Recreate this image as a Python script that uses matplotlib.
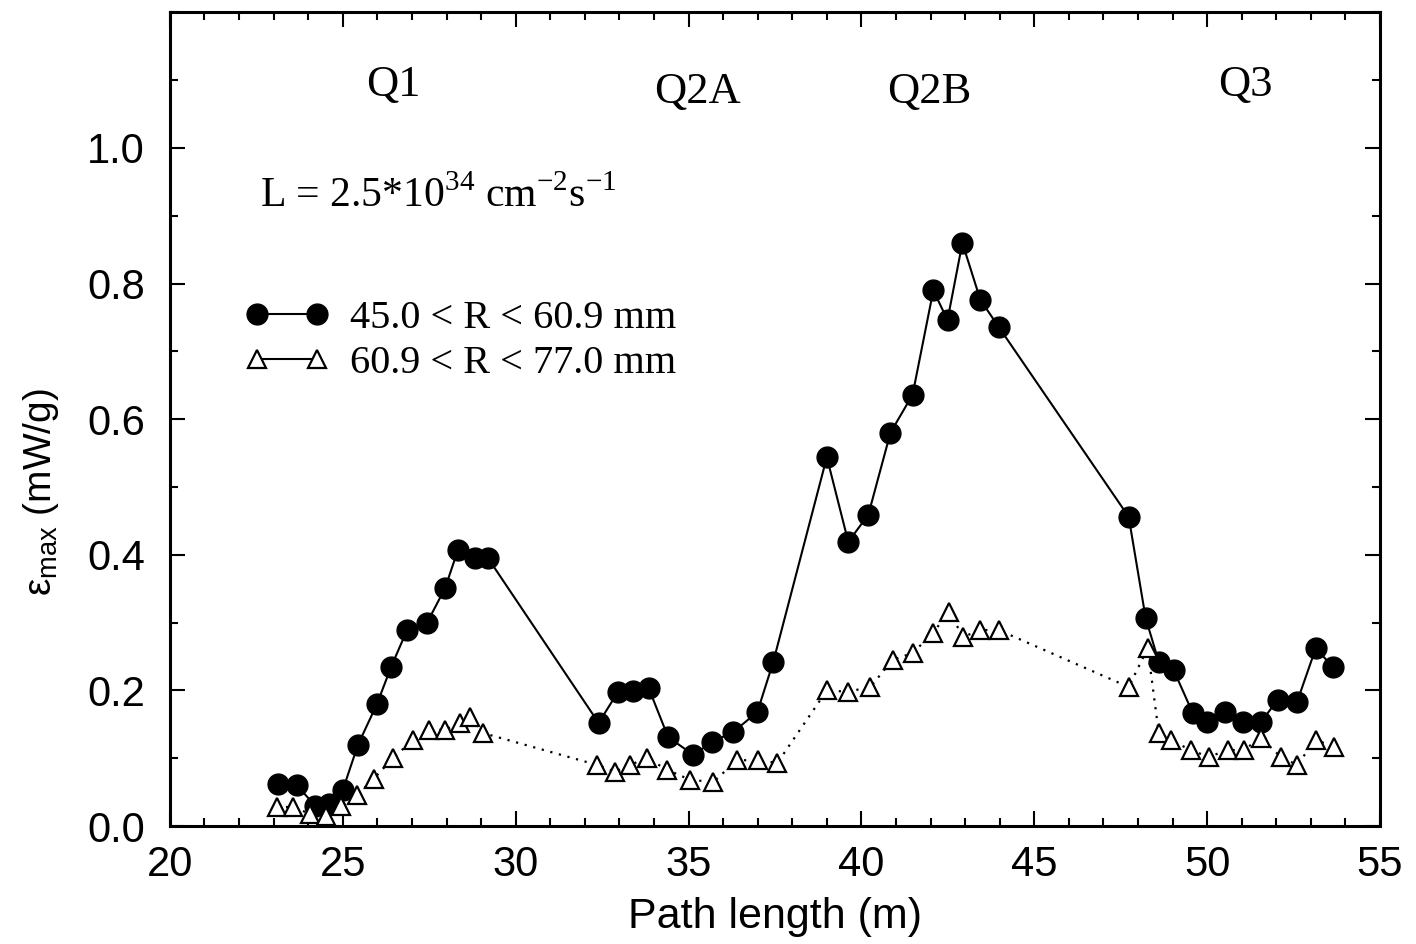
import matplotlib
matplotlib.use("Agg")
import matplotlib.pyplot as plt
from matplotlib.lines import Line2D
from matplotlib.ticker import MultipleLocator

# 45.0 < R < 60.9 mm (filled circles)
path_inner = [23.13, 23.67, 24.2, 24.6, 25.0, 25.44, 25.99, 26.4, 26.86, 27.44,
              27.96, 28.33, 28.83, 29.2, 32.4, 32.95, 33.4, 33.85, 34.41, 35.14,
              35.69, 36.3, 36.99, 37.45, 39.0, 39.62, 40.2, 40.84, 41.48, 42.08,
              42.49, 42.92, 43.44, 43.97, 47.73, 48.22, 48.6, 49.03, 49.58, 50.0,
              50.53, 51.05, 51.55, 52.04, 52.6, 53.14, 53.63]
emax_inner = [0.062, 0.06, 0.03, 0.033, 0.053, 0.12, 0.18, 0.235, 0.289, 0.30,
              0.351, 0.407, 0.395, 0.395, 0.152, 0.197, 0.199, 0.203, 0.131, 0.105,
              0.124, 0.139, 0.168, 0.242, 0.544, 0.419, 0.459, 0.58, 0.636, 0.79,
              0.746, 0.86, 0.776, 0.736, 0.456, 0.307, 0.242, 0.23, 0.167, 0.153,
              0.168, 0.153, 0.153, 0.186, 0.183, 0.262, 0.235]

# 60.9 < R < 77.0 mm (open triangles)
path_outer = [23.1, 23.56, 24.05, 24.5, 24.95, 25.4, 25.9, 26.45, 27.03, 27.5,
              27.96, 28.4, 28.68, 29.06, 32.36, 32.88, 33.3, 33.8, 34.38, 35.05,
              35.72, 36.4, 37.0, 37.57, 39.0, 39.6, 40.26, 40.9, 41.48, 42.08,
              42.52, 42.95, 43.44, 43.97, 47.73, 48.28, 48.6, 48.94, 49.52, 50.04,
              50.6, 51.06, 51.55, 52.13, 52.6, 53.14, 53.66]
emax_outer = [0.028, 0.028, 0.018, 0.015, 0.03, 0.045, 0.07, 0.1, 0.127, 0.142,
              0.142, 0.152, 0.161, 0.137, 0.09, 0.08, 0.09, 0.1, 0.083, 0.068,
              0.065, 0.097, 0.097, 0.093, 0.2, 0.198, 0.205, 0.245, 0.255, 0.285,
              0.316, 0.279, 0.289, 0.289, 0.205, 0.262, 0.137, 0.127, 0.112, 0.102,
              0.112, 0.112, 0.13, 0.102, 0.09, 0.127, 0.117]

labels = ["45.0 < R < 60.9 mm", "60.9 < R < 77.0 mm"]

quad_names = ["Q1", "Q2A", "Q2B", "Q3"]
quad_x = [26.45, 35.25, 41.95, 51.1]
quad_y = [1.093, 1.083, 1.083, 1.093]

SERIF = "Liberation Serif"
SANS = "Liberation Sans"

fig = plt.figure(figsize=(14.16, 9.44), dpi=100)
ax = fig.add_axes([0.12, 0.125, 0.8546, 0.862])

ax.plot(path_inner, emax_inner, color="black", lw=1.5, marker="o",
        markersize=15, markerfacecolor="black", markeredgecolor="black", zorder=3)
ax.plot(path_outer, emax_outer, color="black", lw=1.6, linestyle=(0, (1, 3)),
        marker="^", markersize=12.5, markerfacecolor="white",
        markeredgecolor="black", markeredgewidth=1.6, zorder=4)

ax.set_xlim(20, 55)
ax.set_ylim(0, 1.2)
ax.xaxis.set_major_locator(MultipleLocator(5))
ax.xaxis.set_minor_locator(MultipleLocator(1))
ax.yaxis.set_minor_locator(MultipleLocator(0.1))
ax.set_yticks([0.0, 0.2, 0.4, 0.6, 0.8, 1.0])
ax.set_yticklabels(["0.0", "0.2", "0.4", "0.6", "0.8", "1.0"])

ax.tick_params(which="both", direction="in", top=True, right=True, width=1.5,
               labelsize=30)
ax.tick_params(which="major", length=11)
ax.tick_params(which="minor", length=6)
ax.tick_params(axis="x", pad=14)
ax.tick_params(axis="y", pad=18)
for lab in ax.get_xticklabels() + ax.get_yticklabels():
    lab.set_fontfamily(SANS)
for sp in ax.spines.values():
    sp.set_linewidth(2.2)

ax.set_xlabel("Path length (m)", fontsize=31, fontfamily=SANS, labelpad=8)
ax.set_ylabel("ε$_{\\mathregular{max}}$ (mW/g)", fontsize=28, fontfamily=SANS)
ax.yaxis.set_label_coords(-0.09, 0.41)

for name, qx, qy in zip(quad_names, quad_x, quad_y):
    ax.text(qx, qy, name, ha="center", va="center", fontsize=32,
            fontfamily=SERIF)

ax.text(22.6, 0.913,
        "L = 2.5*10$^{\\mathregular{34}}$ cm$^{\\mathregular{-2}}$s$^{\\mathregular{-1}}$",
        ha="left", va="baseline", fontsize=30, fontfamily=SERIF)

handles = [
    Line2D([], [], color="black", lw=1.5, marker="o", markersize=15,
           markerfacecolor="black"),
    Line2D([], [], color="black", lw=1.5, marker="^", markersize=12.5,
           markerfacecolor="white", markeredgewidth=1.6),
]
ax.legend(handles, labels, loc="upper left", bbox_to_anchor=(0.062, 0.647),
          frameon=False, numpoints=2, handlelength=2.1, handletextpad=0.5,
          labelspacing=0.2, borderpad=0, borderaxespad=0,
          prop={"family": SERIF, "size": 29})

fig.savefig("out.png", dpi=100)
